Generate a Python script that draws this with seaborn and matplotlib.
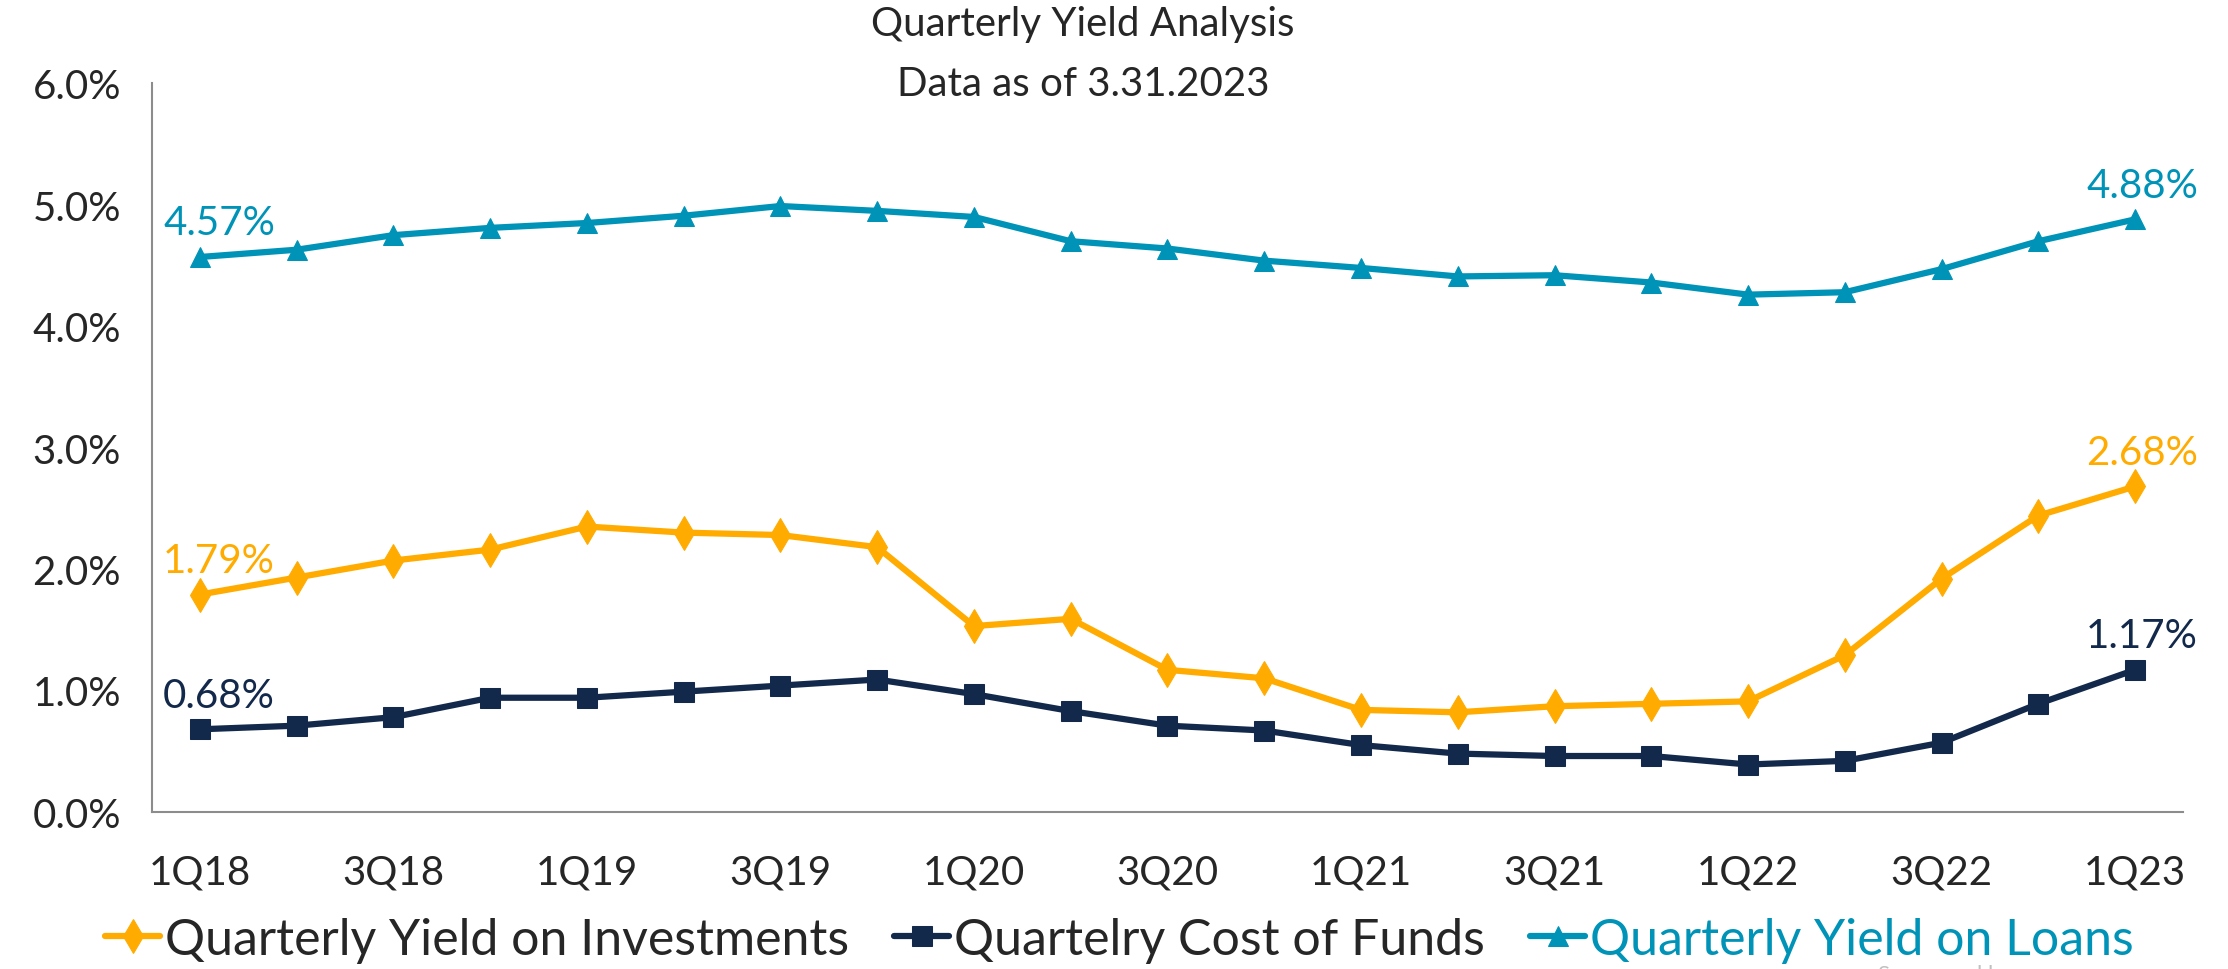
import numpy as np
import pandas as pd
import matplotlib.pyplot as plt
import seaborn as sns
from matplotlib.ticker import FuncFormatter, FixedLocator

quarters = ['1Q18', '2Q18', '3Q18', '4Q18', '1Q19', '2Q19', '3Q19', '4Q19',
            '1Q20', '2Q20', '3Q20', '4Q20', '1Q21', '2Q21', '3Q21', '4Q21',
            '1Q22', '2Q22', '3Q22', '4Q22', '1Q23']

yield_investments = [1.79, 1.93, 2.07, 2.16, 2.35, 2.30, 2.28, 2.18, 1.53, 1.59,
                     1.17, 1.10, 0.84, 0.82, 0.87, 0.89, 0.91, 1.29, 1.92, 2.44, 2.68]
cost_of_funds = [0.68, 0.71, 0.78, 0.94, 0.94, 0.99, 1.04, 1.09, 0.97, 0.83,
                 0.71, 0.67, 0.55, 0.48, 0.46, 0.46, 0.39, 0.42, 0.57, 0.89, 1.17]
yield_loans = [4.57, 4.63, 4.75, 4.81, 4.85, 4.91, 4.99, 4.95, 4.90, 4.70,
               4.64, 4.54, 4.48, 4.41, 4.42, 4.36, 4.26, 4.28, 4.47, 4.70, 4.88]

series_names = ['Quarterly Yield on Investments', 'Quartelry Cost of Funds',
                'Quarterly Yield on Loans']
colors = ['#FFAB00', '#13294B', '#0093B8']
markers = ['d', 's', '^']

sns.set_style('white')
plt.rcParams['font.family'] = ['Lato', 'DejaVu Sans']

fig = plt.figure(figsize=(22.28, 9.70), dpi=100)
ax = fig.add_axes([0.068, 0.162, 0.912, 0.751])

x = np.arange(len(quarters))
all_values = [yield_investments, cost_of_funds, yield_loans]
for name, vals, col, mk in zip(series_names, all_values, colors, markers):
    df = pd.DataFrame({'x': x, 'y': np.array(vals) / 100})
    sns.lineplot(data=df, x='x', y='y', ax=ax, color=col, linewidth=4.5,
                 marker=mk, markersize=15 if mk != 'd' else 17,
                 markeredgecolor=col, label=name)
    # first and last data labels
    ax.text(x[0] - 0.38, vals[0] / 100 + 0.0013, f'{vals[0]:.2f}%', color=col,
            fontsize=29, ha='left', va='bottom')
    ax.text(x[-1] + 0.65, vals[-1] / 100 + 0.0013, f'{vals[-1]:.2f}%', color=col,
            fontsize=29, ha='right', va='bottom')

ax.set_xlim(-0.5, len(quarters) - 0.5)
ax.set_ylim(0, 0.06)
ax.yaxis.set_major_formatter(FuncFormatter(lambda v, p: f'{v*100:.1f}%'))
ax.set_yticks(np.arange(0, 0.061, 0.01))

# tick marks at category boundaries, labels every other quarter
ax.xaxis.set_major_locator(FixedLocator(np.arange(-0.5, len(quarters), 1)))
ax.set_xticklabels([])
ax.xaxis.set_minor_locator(FixedLocator(x[::2]))
ax.set_xticklabels(quarters[::2], minor=True)
ax.tick_params(axis='x', which='major', length=14, width=1.5, color='#8C8C8C', direction='out')
ax.tick_params(axis='x', which='minor', length=0, pad=30, labelsize=29)
ax.tick_params(axis='y', length=8, width=1.5, color='#8C8C8C', labelsize=29, pad=14)

for s in ['top', 'right']:
    ax.spines[s].set_visible(False)
for s in ['left', 'bottom']:
    ax.spines[s].set_color('#8C8C8C')
    ax.spines[s].set_linewidth(1.5)

ax.set_xlabel('')
ax.set_ylabel('')

fig.text(0.486, 0.975, 'Quarterly Yield Analysis', ha='center', va='center', fontsize=29)
fig.text(0.486, 0.913, 'Data as of 3.31.2023', ha='center', va='center', fontsize=29)

leg = ax.legend(loc='center left', bbox_to_anchor=(0.027, 0.03),
                bbox_transform=fig.transFigure, ncol=3, frameon=False,
                fontsize=36, handlelength=1.1, handletextpad=0.1,
                columnspacing=0.9)
leg.get_texts()[2].set_color(colors[2])

fig.text(0.843, 0.005, 'Sponsored by', color='#C0C0C0', fontsize=16, ha='left', va='top')

fig.savefig('out.png', dpi=100)
